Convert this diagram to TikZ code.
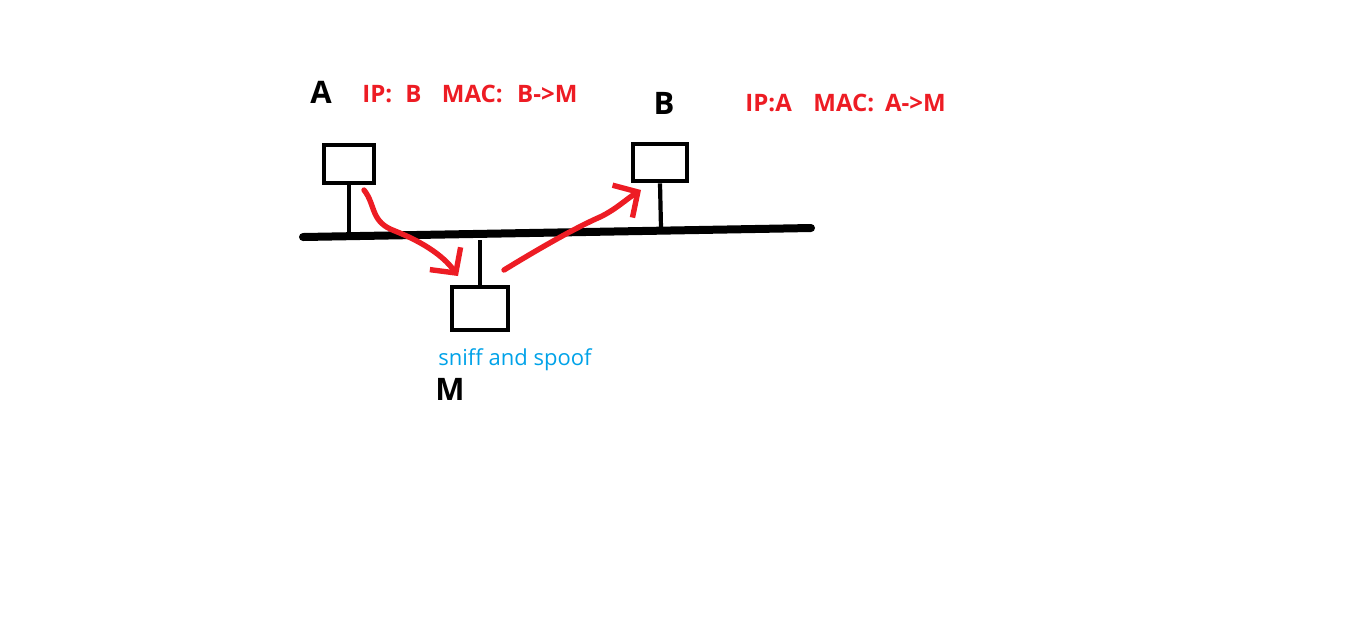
\documentclass[tikz,border=0pt]{standalone}
\usepackage{fontspec}
\setmainfont{Open Sans}
\usetikzlibrary{arrows.meta}
\definecolor{arpred}{RGB}{237,28,36}
\definecolor{arpblue}{RGB}{0,162,232}

\begin{document}
\begin{tikzpicture}[x=0.5pt,y=-0.5pt,
    host/.style={draw,line width=2.3pt,inner sep=0pt},
    bus/.style={line width=4pt,line cap=round},
    stub/.style={line width=2.1pt},
    spoof/.style={arpred,line width=2.7pt,line cap=round,line join=round,
      -{Straight Barb[length=9pt,width=19pt,line width=2.7pt]}},
    hostlabel/.style={font=\bfseries\fontsize{15.5}{18}\selectfont,inner sep=0pt},
    cache/.style={arpred,font=\bfseries\fontsize{12}{14}\selectfont,inner sep=0pt,anchor=west}]
    \useasboundingbox (0,0) rectangle (1350,629);
    % hosts
    \node[host,minimum width=25pt,minimum height=19pt] (A) at (349,164) {};
    \node[host,minimum width=27pt,minimum height=18.5pt] (B) at (660,162.5) {};
    \node[host,minimum width=28pt,minimum height=21.5pt] (M) at (480,308.5) {};
    % the wire
    \coordinate (l) at (303,237);
    \coordinate (r) at (811,228);
    \draw[bus] (l) -- (r);
    \coordinate (tA) at (349,234);
    \coordinate (tB) at (661,228);
    \coordinate (tM) at (480,240);
    \draw[stub] (A.south) -- (tA);
    \draw[stub] (B.south) -- (tB);
    \draw[stub] (M.north) -- (tM);
    % poisoned traffic
    \coordinate (s1) at (364,190);
    \coordinate (e1) at (458,276);
    \coordinate (s2) at (504,270);
    \coordinate (e2) at (641,190);
    \draw[spoof] (s1) .. controls (376,205) and (370,222) .. (395,231)
        .. controls (420,241) and (442,254) .. (e1);
    \draw[spoof] (s2) .. controls (540,248) and (575,228) .. (600,217)
        .. controls (615,210) and (628,198) .. (e2);
    % labels
    \node[hostlabel] (nA) at (321,92) {A};
    \node[hostlabel] (nB) at (664,103) {B};
    \node[hostlabel] (nM) at (450,389) {M};
    \node[cache] (cA) at (362,94) {IP:\hspace{0.55em}B\hspace{0.85em}MAC:\hspace{0.6em}B->M};
    \node[cache] (cB) at (745,103) {IP:A\hspace{0.9em}MAC:\hspace{0.45em}A->M};
    \node[arpblue,font=\fontsize{11}{14}\selectfont,inner sep=0pt,anchor=west] (sn) at (438,360) {sniff and spoof};
\end{tikzpicture}
\end{document}
